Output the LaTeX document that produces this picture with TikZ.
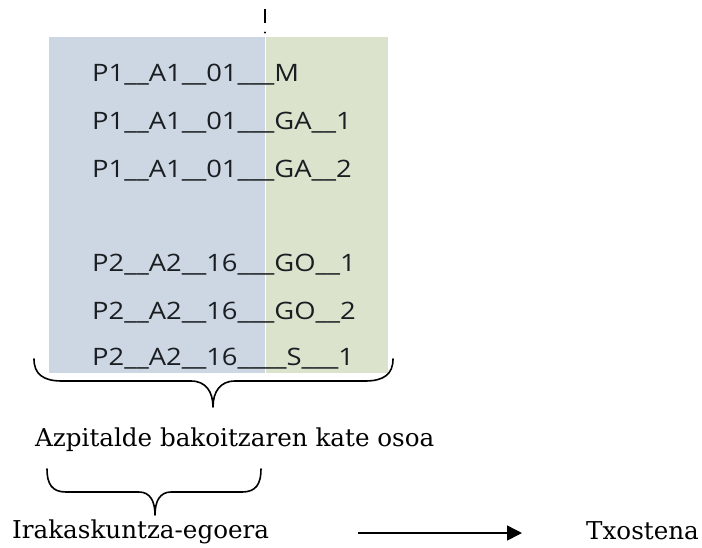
\documentclass[tikz,border=0pt]{standalone}
\usepackage{fontspec}
\setmainfont{DejaVu Serif}
\newfontfamily\rowfont[FakeStretch=1.14]{Open Sans}
\usetikzlibrary{arrows.meta}
\definecolor{bluebg}{HTML}{CDD7E3}
\definecolor{greenbg}{HTML}{DCE3CD}
\definecolor{rowtext}{HTML}{1A1E22}
\begin{document}
\begin{tikzpicture}[x=1pt,y=-1pt,
  rowlabel/.style={anchor=base west,inner sep=0pt,font=\rowfont\fontsize{24}{28}\selectfont,text=rowtext},
  caption/.style={anchor=base west,inner sep=0pt,font=\fontsize{24.6}{29}\selectfont},
  bracepath/.style={line width=1.6pt,line cap=round,line join=round},
  arrowline/.style={line width=1.5pt,-{Triangle[length=15pt,width=15pt]}}]
\useasboundingbox (0,0) rectangle (702,547);
% background panels
\fill[bluebg] (49,37) rectangle (265,373);
\fill[greenbg] (266,37) rectangle (388,373);
\draw[white,line width=1pt] (265.5,37) -- (265.5,373);
% small tick at the top
\coordinate (tickA) at (265,9);
\coordinate (tickB) at (265,23);
\draw[line width=1.6pt] (tickA) -- (tickB);
\fill (265,32.5) circle (1.1pt);
% rows
\node[rowlabel] (r1) at (92,81) {P1\_\_A1\_\_01\_\_\_M};
\node[rowlabel] (r2) at (92,129) {P1\_\_A1\_\_01\_\_\_GA\_\_1};
\node[rowlabel] (r3) at (92,177) {P1\_\_A1\_\_01\_\_\_GA\_\_2};
\node[rowlabel] (r4) at (92,271) {P2\_\_A2\_\_16\_\_\_GO\_\_1};
\node[rowlabel] (r5) at (92,319) {P2\_\_A2\_\_16\_\_\_GO\_\_2};
\node[rowlabel] (r6) at (92,365) {P2\_\_A2\_\_16\_\_\_\_S\_\_\_1};
% big brace
\coordinate (b1L) at (34,359);
\coordinate (b1T) at (213,407);
\coordinate (b1R) at (393,359);
\draw[bracepath] (b1L) .. controls (34,374) and (43,381) .. (62,381) -- (191,381)
  .. controls (206,381) and (213,392) .. (b1T)
  .. controls (213,392) and (220,381) .. (235,381) -- (365,381)
  .. controls (384,381) and (393,374) .. (b1R);
\node[caption] (cap1) at (35,446) {Azpitalde bakoitzaren kate osoa};
% small brace
\coordinate (b2L) at (47,469);
\coordinate (b2T) at (155,515);
\coordinate (b2R) at (261,469);
\draw[bracepath] (b2L) .. controls (47,484) and (52,492) .. (66,492) -- (139,492)
  .. controls (150,492) and (155,501) .. (b2T)
  .. controls (155,501) and (160,492) .. (171,492) -- (242,492)
  .. controls (256,492) and (261,484) .. (b2R);
\node[caption] (irak) at (12,538) {Irakaskuntza-egoera};
\node[caption] (tx) at (586,539) {Txostena};
\coordinate (arrS) at (358,533);
\coordinate (arrE) at (522,533);
\draw[arrowline] (arrS) -- (arrE);
\end{tikzpicture}
\end{document}
